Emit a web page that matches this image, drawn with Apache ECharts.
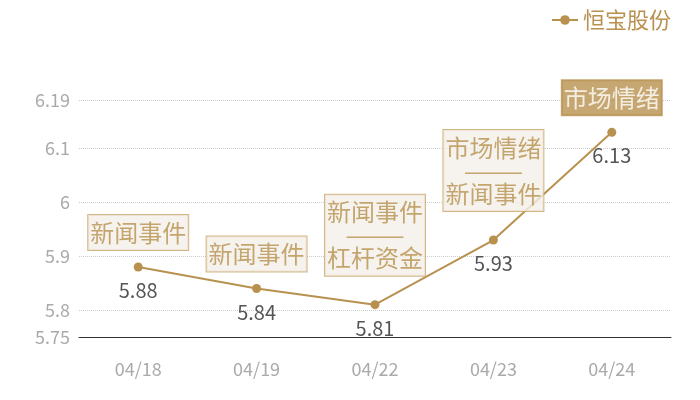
<!DOCTYPE html>
<html>
<head>
<meta charset="utf-8">
<script src="https://cdn.jsdelivr.net/npm/echarts@6/dist/echarts.min.js"></script>
<style>
  html, body { margin: 0; padding: 0; background: #fff; }
  #chart { width: 700px; height: 400px; }
</style>
</head>
<body>
<div id="chart"></div>
<script>
// 数据
var dates = ['04/18', '04/19', '04/22', '04/23', '04/24'];
var prices = [5.88, 5.84, 5.81, 5.93, 6.13];
var events = ['新闻事件', '新闻事件', '新闻事件\n———\n杠杆资金', '市场情绪\n———\n新闻事件', '市场情绪'];
var seriesName = '恒宝股份';

var gold = '#b8914f';
var fontFamily = '"Noto Sans CJK SC", "Noto Sans", sans-serif';

// 事件标注，最后一个用实心框
var eventData = prices.map(function(v, i) {
    var multi = events[i].indexOf('\n') >= 0;
    var last = i === prices.length - 1;
    return {
        value: v,
        label: {
            distance: multi ? 29 : 17,
            color: last ? '#fff' : gold,
            backgroundColor: last ? gold : '#f4f0ea',
            borderColor: last ? gold : '#c9a56c',
            borderWidth: 1
        }
    };
});

var chart = echarts.init(document.getElementById('chart'));
chart.setOption({
    textStyle: { fontFamily: fontFamily },
    legend: {
        data: [seriesName],
        right: 24,
        top: 4,
        itemWidth: 26,
        itemHeight: 12,
        itemGap: 6,
        textStyle: { color: gold, fontSize: 22, fontFamily: fontFamily }
    },
    grid: { left: 79, right: 29, top: 100, bottom: 63 },
    xAxis: {
        type: 'category',
        data: dates,
        boundaryGap: true,
        axisLine: { lineStyle: { color: '#333', width: 1 } },
        axisTick: { show: false },
        axisLabel: { color: '#aaa', fontSize: 18, margin: 23 }
    },
    yAxis: {
        type: 'value',
        min: 5.75,
        max: 6.19,
        splitNumber: 5,
        axisLine: { show: false },
        axisTick: { show: false },
        axisLabel: { color: '#aaa', fontSize: 18, margin: 9 },
        splitLine: { lineStyle: { color: '#ccc', type: 'dotted', width: 1 } }
    },
    series: [{
        name: seriesName,
        type: 'line',
        data: prices,
        symbol: 'circle',
        symbolSize: 9,
        itemStyle: { color: gold },
        lineStyle: { color: gold, width: 2 },
        label: {
            show: true,
            position: 'bottom',
            distance: 9,
            color: '#555',
            fontSize: 20
        },
        z: 2
    }, {
        type: 'scatter',
        data: eventData,
        symbolSize: 0,
        silent: true,
        label: {
            show: true,
            position: 'top',
            fontSize: 24,
            lineHeight: 23,
            padding: [6, 2, 6, 2],
            align: 'center',
            formatter: function(p) {
                return events[p.dataIndex];
            }
        },
        z: 3
    }]
});
</script>
</body>
</html>
